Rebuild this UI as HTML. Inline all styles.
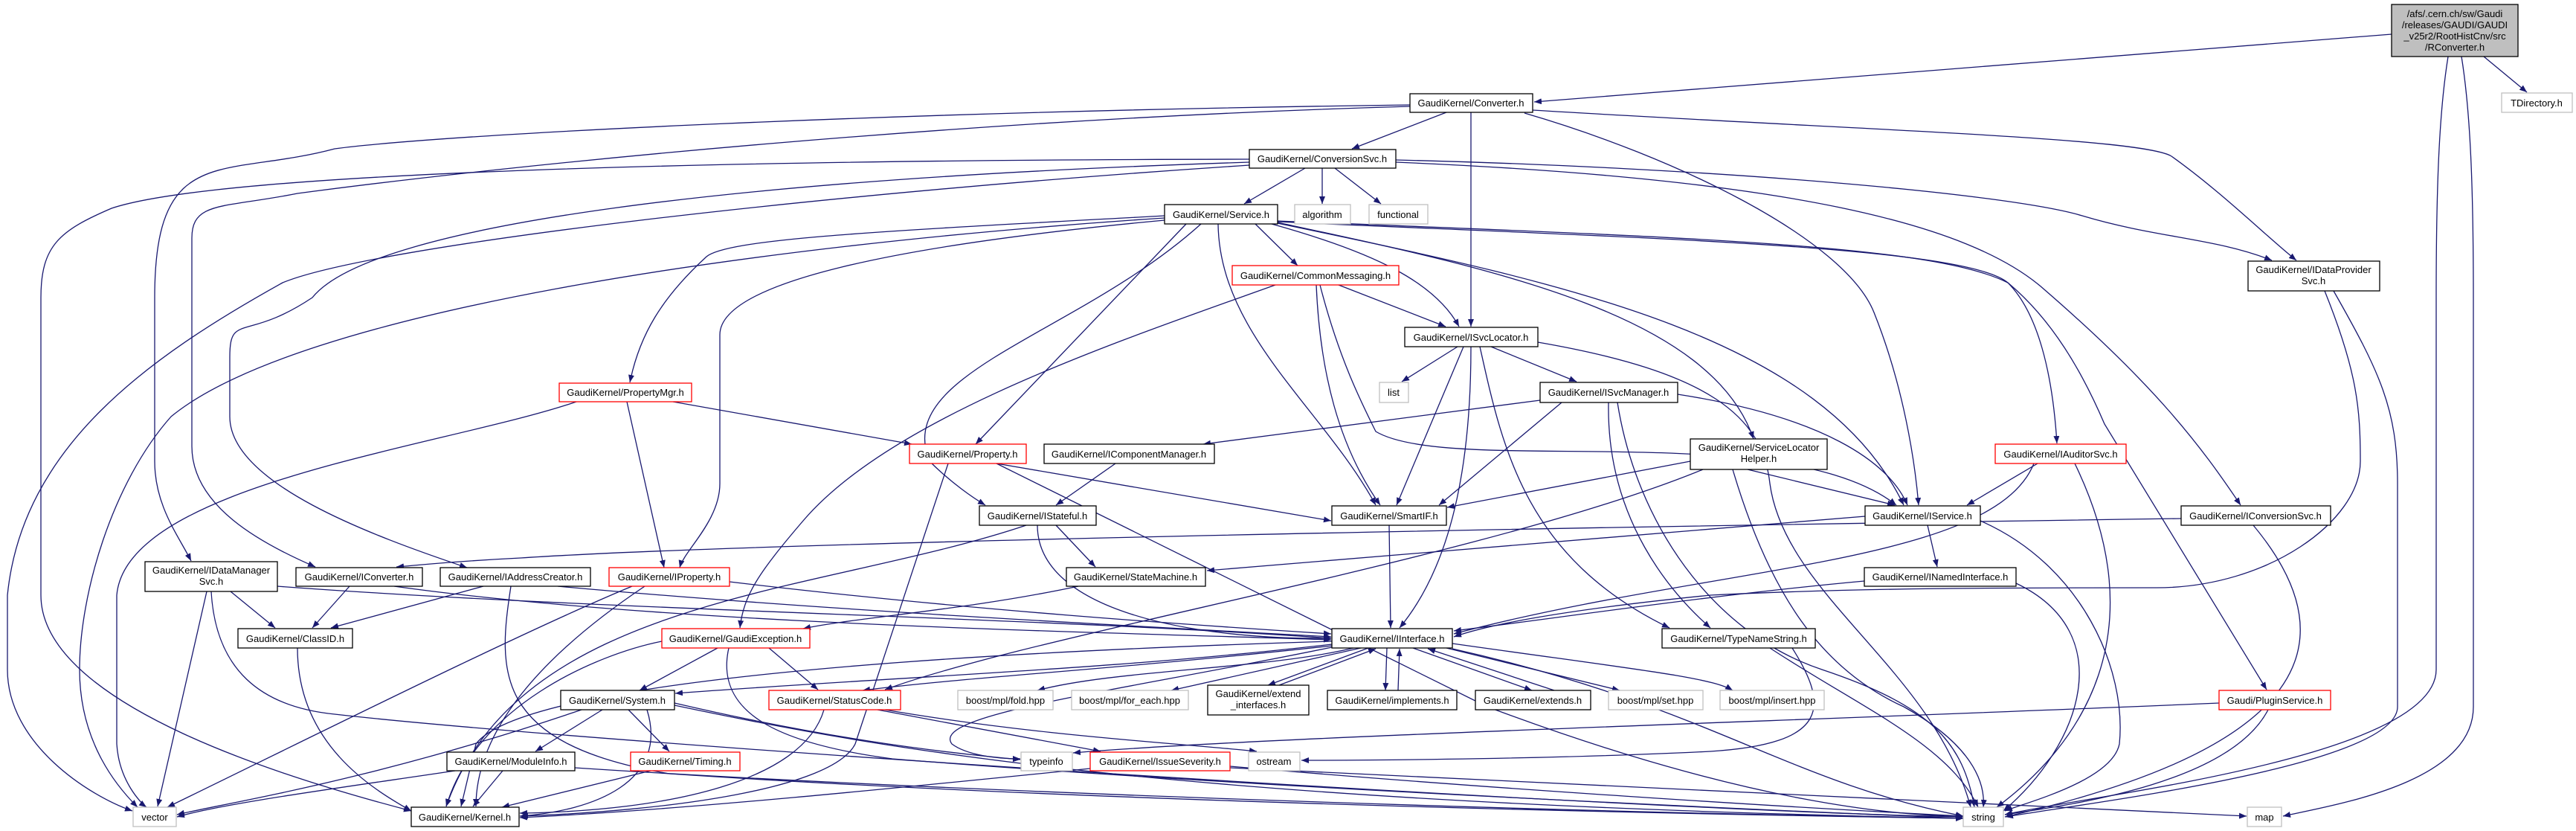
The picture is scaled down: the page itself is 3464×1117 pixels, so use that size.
<!DOCTYPE html>
<html><head><meta charset="utf-8"><style>
html,body{margin:0;padding:0;background:#fff;}
svg{display:block;}
text{font-family:"Liberation Sans",sans-serif;font-size:13px;fill:#000;text-anchor:middle;}
.e{fill:none;stroke:#191970;stroke-width:1.3;marker-end:url(#a);}
.n{fill:#fff;stroke:#000;stroke-width:1.3;}
.r{fill:#fff;stroke:#ff0000;stroke-width:1.3;}
.g{fill:#fff;stroke:#bfbfbf;stroke-width:1.3;}
</style></head><body>
<svg width="3464" height="1117" viewBox="0 0 3464 1117" xmlns="http://www.w3.org/2000/svg">
<defs><marker id="a" markerUnits="userSpaceOnUse" markerWidth="10" markerHeight="8" refX="10" refY="4" orient="auto"><path d="M0,0 L10,4 L0,8 z" fill="#191970"/></marker></defs>
<g>
<path class="e" d="M3216,46 L2063,137"/>
<path class="e" d="M3340,76 L3398,124"/>
<path class="e" d="M3292,76 C3280,150 3276,250 3276,400 L3276,900 C3276,1020 2800,1070 2696,1095"/>
<path class="e" d="M3310,76 C3322,150 3326,250 3326,400 L3326,950 C3326,1050 3150,1080 3070,1097"/>
<path class="e" d="M1945,151 L1818,200"/>
<path class="e" d="M1978,151 L1978,439"/>
<path class="e" d="M2061,148 C2500,175 2880,185 2920,210 C2990,260 3050,320 3088,350"/>
<path class="e" d="M2050,152 C2250,210 2480,320 2520,420 C2560,520 2575,620 2580,679"/>
<path class="e" d="M1896,141 C1200,150 600,180 450,200 C300,240 208,190 208,400 L208,620 C208,680 240,720 257,754"/>
<path class="e" d="M1896,143 C1300,160 700,220 400,260 C300,280 258,270 258,320 L258,600 C258,680 350,730 424,762"/>
<path class="e" d="M1755,226 L1673,274"/>
<path class="e" d="M1778,226 L1778,274"/>
<path class="e" d="M1795,226 L1857,274"/>
<path class="e" d="M1877,215 C2300,225 2700,260 2800,290 C2900,320 2980,320 3055,350"/>
<path class="e" d="M1877,218 C2400,240 2650,300 2750,390 C2900,520 2960,600 3013,679"/>
<path class="e" d="M1680,214 C1000,215 300,230 150,280 C80,310 55,330 55,400 L55,800 C55,950 400,1050 553,1090"/>
<path class="e" d="M1680,218 C1000,240 500,300 420,400 C330,460 309,420 309,480 L309,560 C309,650 500,720 628,763"/>
<path class="e" d="M1680,222 C1100,260 500,330 380,380 C200,480 30,600 10,800 L10,900 C10,1000 120,1070 178,1090"/>
<path class="e" d="M1566,293 C1000,330 400,420 230,560 C150,650 107,800 107,900 C107,1000 160,1060 185,1085"/>
<path class="e" d="M775,540 C600,600 170,650 157,800 L157,1000 C160,1050 190,1080 197,1085"/>
<path class="e" d="M1688,301 L1745,357"/>
<path class="e" d="M1566,290 C1200,310 980,320 950,345 C890,400 860,450 847,514"/>
<path class="e" d="M1566,296 C1200,330 968,380 968,450 L968,650 C968,700 920,740 914,763"/>
<path class="e" d="M1595,301 L1312,597"/>
<path class="e" d="M1615,301 C1450,450 1200,500 1250,620 C1280,650 1310,670 1325,679"/>
<path class="e" d="M1638,301 C1640,450 1780,550 1850,679"/>
<path class="e" d="M1710,301 C1850,340 1930,380 1962,439"/>
<path class="e" d="M1718,300 C2100,380 2450,450 2560,679"/>
<path class="e" d="M1718,299 C2000,360 2300,420 2358,590"/>
<path class="e" d="M1718,297 C2300,320 2600,330 2700,380 C2740,420 2760,500 2766,596"/>
<path class="e" d="M1718,298 C2200,320 2640,330 2700,380 C2760,430 2800,500 2830,570 L3048,927"/>
<path class="e" d="M1800,383 L1944,439"/>
<path class="e" d="M1770,383 C1775,500 1800,600 1856,679"/>
<path class="e" d="M1775,383 C1800,480 1830,540 1850,580 C1950,640 2400,560 2550,679"/>
<path class="e" d="M1715,383 C1500,460 1200,560 1080,700 C1020,770 1000,800 995,844"/>
<path class="e" d="M1960,466 L1885,513"/>
<path class="e" d="M2005,466 L2120,513"/>
<path class="e" d="M1968,466 L1878,679"/>
<path class="e" d="M1978,466 C1978,600 1960,750 1882,844"/>
<path class="e" d="M1990,466 C2020,600 2050,750 2245,844"/>
<path class="e" d="M2068,460 C2300,500 2370,560 2380,650 C2400,800 2600,900 2650,1085"/>
<path class="e" d="M2071,538 L1618,597"/>
<path class="e" d="M2100,541 L1935,679"/>
<path class="e" d="M2256,530 C2450,560 2540,620 2565,679"/>
<path class="e" d="M2163,541 C2160,700 2250,800 2300,844"/>
<path class="e" d="M2175,541 C2200,700 2300,850 2450,900 C2600,950 2640,1000 2655,1085"/>
<path class="e" d="M905,540 L1226,597"/>
<path class="e" d="M843,540 L893,763"/>
<path class="e" d="M1340,623 L1790,700"/>
<path class="e" d="M1340,623 L2000,950 C2400,1100 2600,1095 2640,1098"/>
<path class="e" d="M1275,623 L1150,1000 C1120,1060 900,1090 700,1097"/>
<path class="e" d="M1500,623 L1420,679"/>
<path class="e" d="M2273,620 L1946,682"/>
<path class="e" d="M2350,631 L2548,679"/>
<path class="e" d="M2330,631 C2380,800 2450,900 2560,950 C2650,1000 2670,1050 2667,1085"/>
<path class="e" d="M2290,631 C2000,750 1400,850 1190,927"/>
<path class="e" d="M2740,623 L2645,679"/>
<path class="e" d="M2735,623 C2680,760 2300,760 1955,852"/>
<path class="e" d="M2790,623 C2900,850 2800,1000 2685,1085"/>
<path class="e" d="M1420,706 L1473,762"/>
<path class="e" d="M1395,706 C1395,820 1600,860 1790,858"/>
<path class="e" d="M1380,706 C1100,800 700,800 600,1084"/>
<path class="e" d="M1868,706 L1870,844"/>
<path class="e" d="M2592,706 L2605,762"/>
<path class="e" d="M2508,694 L1623,767"/>
<path class="e" d="M2933,697 C2000,710 1000,730 700,750 C600,755 560,760 533,762"/>
<path class="e" d="M2663,700 C2800,760 2860,900 2850,1000 C2840,1050 2720,1080 2696,1090"/>
<path class="e" d="M3030,706 C3150,850 3130,1000 2696,1098"/>
<path class="e" d="M3126,391 C3170,500 3174,550 3174,620 C3174,700 3050,790 2900,790 C2700,790 2500,790 2300,800 C2100,820 2000,840 1955,856"/>
<path class="e" d="M3138,391 C3200,500 3224,550 3224,650 L3224,950 C3224,1030 2800,1080 2697,1098"/>
<path class="e" d="M310,795 L370,844"/>
<path class="e" d="M278,795 L212,1084"/>
<path class="e" d="M373,788 C800,820 1400,830 1790,858"/>
<path class="e" d="M284,795 C290,900 350,950 450,960 C800,1000 2200,1090 2640,1098"/>
<path class="e" d="M470,788 L420,844"/>
<path class="e" d="M530,788 C900,840 1500,850 1790,860"/>
<path class="e" d="M650,788 L445,844"/>
<path class="e" d="M750,788 C1100,820 1500,840 1790,856"/>
<path class="e" d="M687,788 C670,900 660,1000 900,1040 C1500,1080 2300,1095 2640,1100"/>
<path class="e" d="M981,782 C1300,820 1600,840 1790,852"/>
<path class="e" d="M850,788 C700,850 400,1000 225,1085"/>
<path class="e" d="M867,788 C700,900 640,1000 640,1084"/>
<path class="e" d="M1450,788 C1300,820 1150,830 1080,845"/>
<path class="e" d="M2507,781 C2300,800 2100,830 1955,848"/>
<path class="e" d="M2711,784 C2850,850 2800,1000 2694,1090"/>
<path class="e" d="M400,871 C400,1000 500,1060 553,1090"/>
<path class="e" d="M965,871 L860,928"/>
<path class="e" d="M1034,871 L1100,927"/>
<path class="e" d="M890,862 C800,880 640,950 600,1084"/>
<path class="e" d="M980,871 C960,960 1050,1000 1200,1020 C1700,1060 2400,1090 2640,1100"/>
<path class="e" d="M1791,866 C1500,900 1200,910 908,932"/>
<path class="e" d="M1791,868 C1500,900 1300,910 1160,928"/>
<path class="e" d="M1820,871 C1700,900 1500,900 1395,928"/>
<path class="e" d="M1830,871 L1575,928"/>
<path class="e" d="M1840,871 L1705,921"/>
<path class="e" d="M1720,921 L1850,872"/>
<path class="e" d="M1865,871 L1863,928"/>
<path class="e" d="M1880,928 L1882,872"/>
<path class="e" d="M1900,871 L2060,928"/>
<path class="e" d="M2090,928 L1920,872"/>
<path class="e" d="M1945,871 L2178,928"/>
<path class="e" d="M1953,865 C2200,900 2300,910 2330,928"/>
<path class="e" d="M1791,870 C1500,930 1250,960 1280,1000 C1300,1015 1340,1020 1372,1020"/>
<path class="e" d="M1953,872 C2300,950 2400,1050 2640,1097"/>
<path class="e" d="M1791,862 C1200,880 700,920 640,1000 L620,1084"/>
<path class="e" d="M2380,871 C2500,950 2620,1000 2660,1085"/>
<path class="e" d="M2410,871 C2460,950 2460,1000 2300,1010 C2100,1020 1850,1022 1750,1022"/>
<path class="e" d="M810,954 L720,1010"/>
<path class="e" d="M845,954 L900,1010"/>
<path class="e" d="M782,954 C500,1050 300,1080 238,1095"/>
<path class="e" d="M870,954 C900,1050 800,1090 699,1097"/>
<path class="e" d="M907,948 C1200,1010 1600,1080 2640,1100"/>
<path class="e" d="M907,945 C1100,990 1250,1010 1372,1021"/>
<path class="e" d="M1180,954 L1480,1010"/>
<path class="e" d="M1190,954 C1400,990 1600,1000 1690,1010"/>
<path class="e" d="M1108,954 C1080,1050 900,1090 699,1093"/>
<path class="e" d="M612,1036 C450,1060 300,1080 238,1098"/>
<path class="e" d="M676,1036 L636,1084"/>
<path class="e" d="M773,1032 C1200,1060 2000,1090 2640,1100"/>
<path class="e" d="M875,1036 L675,1085"/>
<path class="e" d="M1654,1030 C2000,1060 2400,1085 2640,1097"/>
<path class="e" d="M1654,1032 C2200,1060 2700,1085 3021,1097"/>
<path class="e" d="M1466,1033 C1200,1060 900,1090 699,1099"/>
<path class="e" d="M2984,945 C2400,970 1700,990 1443,1012"/>
<path class="e" d="M3050,954 C3000,1050 2800,1080 2696,1095"/>
</g>
<g>
<rect x="3216" y="6" width="170" height="70" fill="#bfbfbf" stroke="#000" stroke-width="1.3"/>
<text x="3301" y="23">/afs/.cern.ch/sw/Gaudi</text>
<text x="3301" y="38">/releases/GAUDI/GAUDI</text>
<text x="3301" y="53">_v25r2/RootHistCnv/src</text>
<text x="3301" y="68">/RConverter.h</text>

<rect class="n" x="1896" y="126" width="165" height="25"/><text x="1978" y="143">GaudiKernel/Converter.h</text>
<rect class="g" x="3364" y="125" width="95" height="26"/><text x="3411" y="143">TDirectory.h</text>
<rect class="n" x="1680" y="201" width="197" height="25"/><text x="1778" y="218">GaudiKernel/ConversionSvc.h</text>
<rect class="n" x="1566" y="275" width="152" height="26"/><text x="1642" y="293">GaudiKernel/Service.h</text>
<rect class="g" x="1741" y="275" width="75" height="26"/><text x="1778" y="293">algorithm</text>
<rect class="g" x="1841" y="275" width="79" height="26"/><text x="1880" y="293">functional</text>
<rect class="r" x="1657" y="357" width="224" height="26"/><text x="1769" y="375">GaudiKernel/CommonMessaging.h</text>
<rect class="n" x="3023" y="351" width="177" height="40"/><text x="3111" y="367">GaudiKernel/IDataProvider</text><text x="3111" y="382">Svc.h</text>
<rect class="n" x="1889" y="440" width="179" height="26"/><text x="1978" y="458">GaudiKernel/ISvcLocator.h</text>
<rect class="g" x="1855" y="514" width="39" height="27"/><text x="1874" y="532">list</text>
<rect class="n" x="2071" y="514" width="185" height="27"/><text x="2163" y="532">GaudiKernel/ISvcManager.h</text>
<rect class="r" x="752" y="515" width="178" height="25"/><text x="841" y="532">GaudiKernel/PropertyMgr.h</text>
<rect class="r" x="1223" y="597" width="157" height="26"/><text x="1301" y="615">GaudiKernel/Property.h</text>
<rect class="n" x="1404" y="597" width="229" height="26"/><text x="1518" y="615">GaudiKernel/IComponentManager.h</text>
<rect class="n" x="2273" y="590" width="184" height="41"/><text x="2365" y="606">GaudiKernel/ServiceLocator</text><text x="2365" y="621">Helper.h</text>
<rect class="r" x="2683" y="597" width="176" height="26"/><text x="2771" y="615">GaudiKernel/IAuditorSvc.h</text>
<rect class="n" x="1317" y="680" width="157" height="26"/><text x="1395" y="698">GaudiKernel/IStateful.h</text>
<rect class="n" x="1791" y="680" width="154" height="26"/><text x="1868" y="698">GaudiKernel/SmartIF.h</text>
<rect class="n" x="2508" y="680" width="155" height="26"/><text x="2585" y="698">GaudiKernel/IService.h</text>
<rect class="n" x="2933" y="680" width="201" height="26"/><text x="3033" y="698">GaudiKernel/IConversionSvc.h</text>
<rect class="n" x="195" y="755" width="178" height="40"/><text x="284" y="771">GaudiKernel/IDataManager</text><text x="284" y="786">Svc.h</text>
<rect class="n" x="398" y="763" width="170" height="25"/><text x="483" y="780">GaudiKernel/IConverter.h</text>
<rect class="n" x="592" y="763" width="202" height="25"/><text x="693" y="780">GaudiKernel/IAddressCreator.h</text>
<rect class="r" x="819" y="763" width="162" height="25"/><text x="900" y="780">GaudiKernel/IProperty.h</text>
<rect class="n" x="1434" y="763" width="187" height="25"/><text x="1527" y="780">GaudiKernel/StateMachine.h</text>
<rect class="n" x="2507" y="763" width="204" height="25"/><text x="2609" y="780">GaudiKernel/INamedInterface.h</text>
<rect class="n" x="320" y="845" width="154" height="26"/><text x="397" y="863">GaudiKernel/ClassID.h</text>
<rect class="r" x="890" y="845" width="199" height="26"/><text x="989" y="863">GaudiKernel/GaudiException.h</text>
<rect class="n" x="1791" y="845" width="162" height="26"/><text x="1872" y="863">GaudiKernel/IInterface.h</text>
<rect class="n" x="2235" y="845" width="206" height="26"/><text x="2338" y="863">GaudiKernel/TypeNameString.h</text>
<rect class="n" x="754" y="928" width="153" height="26"/><text x="830" y="946">GaudiKernel/System.h</text>
<rect class="r" x="1034" y="928" width="177" height="26"/><text x="1122" y="946">GaudiKernel/StatusCode.h</text>
<rect class="g" x="1288" y="928" width="128" height="26"/><text x="1352" y="946">boost/mpl/fold.hpp</text>
<rect class="g" x="1441" y="928" width="157" height="26"/><text x="1519" y="946">boost/mpl/for_each.hpp</text>
<rect class="n" x="1624" y="921" width="136" height="40"/><text x="1692" y="937">GaudiKernel/extend</text><text x="1692" y="952">_interfaces.h</text>
<rect class="n" x="1785" y="928" width="174" height="26"/><text x="1872" y="946">GaudiKernel/implements.h</text>
<rect class="n" x="1984" y="928" width="155" height="26"/><text x="2061" y="946">GaudiKernel/extends.h</text>
<rect class="g" x="2163" y="928" width="127" height="26"/><text x="2226" y="946">boost/mpl/set.hpp</text>
<rect class="g" x="2313" y="928" width="140" height="26"/><text x="2383" y="946">boost/mpl/insert.hpp</text>
<rect class="r" x="2984" y="928" width="150" height="26"/><text x="3059" y="946">Gaudi/PluginService.h</text>
<rect class="n" x="601" y="1011" width="172" height="25"/><text x="687" y="1028">GaudiKernel/ModuleInfo.h</text>
<rect class="r" x="848" y="1011" width="147" height="25"/><text x="921" y="1028">GaudiKernel/Timing.h</text>
<rect class="g" x="1373" y="1011" width="69" height="25"/><text x="1407" y="1028">typeinfo</text>
<rect class="r" x="1466" y="1011" width="188" height="25"/><text x="1560" y="1028">GaudiKernel/IssueSeverity.h</text>
<rect class="g" x="1679" y="1011" width="69" height="25"/><text x="1713" y="1028">ostream</text>
<rect class="g" x="179" y="1085" width="58" height="26"/><text x="208" y="1103">vector</text>
<rect class="n" x="553" y="1085" width="145" height="26"/><text x="625" y="1103">GaudiKernel/Kernel.h</text>
<rect class="g" x="2640" y="1085" width="54" height="26"/><text x="2667" y="1103">string</text>
<rect class="g" x="3022" y="1085" width="46" height="26"/><text x="3045" y="1103">map</text>
</g>
</svg>
</body></html>
